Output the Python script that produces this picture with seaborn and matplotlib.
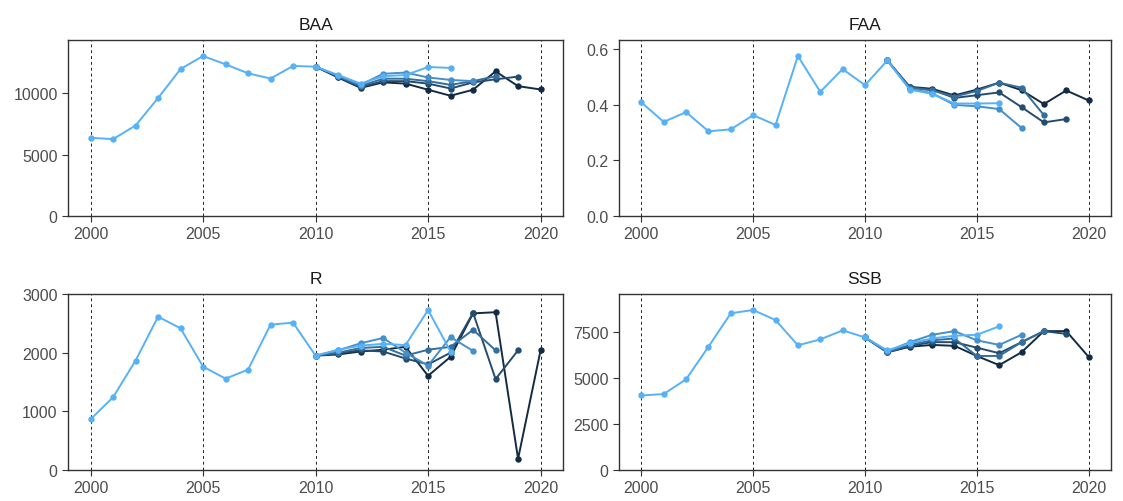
import numpy as np
import pandas as pd
import matplotlib
matplotlib.use("Agg")
import matplotlib.pyplot as plt
import seaborn as sns
from matplotlib.colors import LinearSegmentedColormap
from matplotlib.ticker import FormatStrFormatter

# --- data ---
runs = [2016, 2017, 2018, 2019, 2020]   # terminal year of each peel

# BAA: shared history 2000-2010, then one tail per run starting 2011
baa_hist = [6380, 6270, 7380, 9620, 11990, 13050, 12370, 11640, 11210, 12240, 12180]
baa_tails = [
    [11500, 10800, 11400, 11500, 12150, 12080],
    [11450, 10700, 11600, 11700, 11300, 11100, 11000],
    [11400, 10600, 11200, 11200, 11000, 10700, 11000, 11400],
    [11350, 10500, 11000, 11000, 10800, 10400, 10900, 11150, 11370],
    [11300, 10450, 10900, 10800, 10300, 9810, 10300, 11800, 10590, 10320],
]

# FAA: shared history 2000-2011, tails start 2012
faa_hist = [0.409, 0.339, 0.374, 0.305, 0.312, 0.363, 0.328, 0.576, 0.447, 0.529, 0.471, 0.560]
faa_tails = [
    [0.455, 0.440, 0.405, 0.405, 0.406],
    [0.458, 0.442, 0.400, 0.395, 0.385, 0.317],
    [0.462, 0.452, 0.430, 0.450, 0.480, 0.462, 0.363],
    [0.463, 0.455, 0.425, 0.435, 0.445, 0.392, 0.337, 0.349],
    [0.465, 0.458, 0.434, 0.455, 0.480, 0.453, 0.403, 0.452, 0.416],
]

# R: shared history 2000-2010, tails start 2011
r_hist = [864, 1240, 1864, 2614, 2415, 1762, 1557, 1711, 2478, 2512, 1949]
r_tails = [
    [2050, 2120, 2150, 2130, 2728, 2020],
    [2040, 2160, 2250, 2000, 1780, 2265, 2030],
    [2000, 2080, 2100, 1950, 2050, 2100, 2390, 2040],
    [1990, 2040, 2020, 1900, 1800, 2000, 2680, 1550, 2040],
    [1970, 2020, 2050, 2100, 1605, 1930, 2670, 2690, 190, 2040],
]

# SSB: shared history 2000-2010, tails start 2011
ssb_hist = [4050, 4130, 4930, 6700, 8520, 8700, 8150, 6780, 7100, 7590, 7210]
ssb_tails = [
    [6500, 6900, 7150, 7300, 7350, 7810],
    [6450, 6950, 7350, 7550, 7050, 6800, 7350],
    [6400, 6800, 7050, 7150, 6200, 6200, 6950, 7550],
    [6400, 6750, 6950, 6950, 6650, 6350, 6950, 7550, 7400],
    [6400, 6700, 6800, 6750, 6200, 5700, 6400, 7550, 7550, 6150],
]

panels = [
    ("BAA", baa_hist, baa_tails, [0, 5000, 10000], "%d"),
    ("FAA", faa_hist, faa_tails, [0.0, 0.2, 0.4, 0.6], "%.1f"),
    ("R", r_hist, r_tails, [0, 1000, 2000, 3000], "%d"),
    ("SSB", ssb_hist, ssb_tails, [0, 2500, 5000, 7500], "%d"),
]


def build_frame(hist, tails):
    # the shared history is drawn once (with the lightest run); the other
    # runs start from the last shared year so their lines stay connected
    rows = []
    n = len(hist)
    for run, tail in zip(runs, tails):
        vals = list(hist) + list(tail)
        first = 0 if run == runs[0] else n - 1
        for i in range(first, len(vals)):
            rows.append({"year": 2000 + i, "value": vals[i], "run": run})
    return pd.DataFrame(rows)


sns.set_style("ticks")
plt.rcParams["font.family"] = ["Liberation Sans", "DejaVu Sans"]

cmap = LinearSegmentedColormap.from_list("gg", ["#56B1F7", "#132B43"])
pal = {run: cmap(i / (len(runs) - 1)) for i, run in enumerate(runs)}

fig = plt.figure(figsize=(11.23, 5.02), dpi=100)
boxes = [
    [0.0606, 0.5677, 0.4408, 0.3506],
    [0.5512, 0.5677, 0.4381, 0.3506],
    [0.0606, 0.0618, 0.4408, 0.3506],
    [0.5512, 0.0618, 0.4381, 0.3506],
]

for (name, hist, tails, yticks, fmt), box in zip(panels, boxes):
    ax = fig.add_axes(box)
    df = build_frame(hist, tails)
    for yr in range(2000, 2021, 5):
        ax.axvline(yr, color="#222222", lw=0.7, ls=(0, (3, 3)), zorder=0)
    sns.lineplot(data=df, x="year", y="value", hue="run", palette=pal,
                 hue_order=runs[::-1], marker="o", markersize=4.6,
                 markeredgewidth=0, linewidth=1.4, legend=False, ax=ax)
    ax.set_xlim(1999, 2021)
    ax.set_ylim(0, df["value"].max() * 1.1)
    ax.set_xticks(range(2000, 2021, 5))
    ax.set_yticks(yticks)
    ax.yaxis.set_major_formatter(FormatStrFormatter(fmt))
    ax.set_xlabel("")
    ax.set_ylabel("")
    ax.set_title(name, fontsize=12.5, color="#1A1A1A", pad=8)
    ax.tick_params(axis="both", labelsize=11.5, labelcolor="#4D4D4D",
                   color="#333333", length=4, width=0.8)
    for s in ax.spines.values():
        s.set_visible(True)
        s.set_color("#333333")
        s.set_linewidth(1.0)

fig.savefig("out.png", dpi=100)
